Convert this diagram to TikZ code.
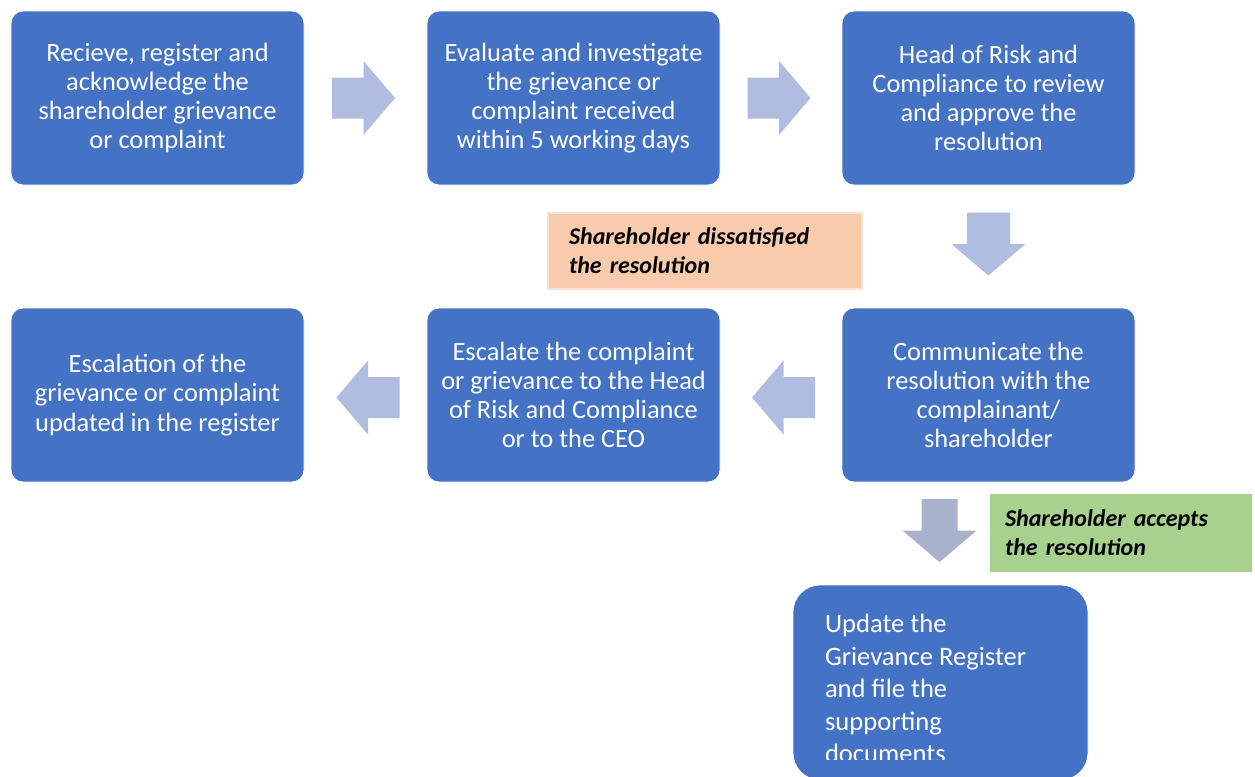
\documentclass[tikz,border=0pt]{standalone}
\usepackage{fontspec}
\setmainfont{Carlito}
\usetikzlibrary{calc}
\definecolor{boxblue}{HTML}{4472C4}
\definecolor{arrowblue}{HTML}{B0BCE0}
\definecolor{arrowgrey}{HTML}{A8B2CA}
\definecolor{peach}{HTML}{F8CBAD}
\definecolor{peachline}{HTML}{FBE3D3}
\definecolor{leafgreen}{HTML}{A9D18E}
\begin{document}
\begin{tikzpicture}[x=0.5pt, y=-0.5pt,
	stepbox/.style={fill=boxblue, draw=white, line width=0.4pt, rounded corners=6pt, minimum width=146.5pt, minimum height=87pt, inner sep=0pt, text=white, align=center, font=\fontsize{13.2}{14.6}\selectfont},
	notebox/.style={inner ysep=0pt, align=left, font=\fontsize{12}{14.5}\selectfont\bfseries\itshape},
	blockarrow/.pic={\path[pic actions] (-31.5,-#1) -- (0,-#1) -- (0,-37) -- (31.5,0) -- (0,37) -- (0,#1) -- (-31.5,#1) -- cycle;}]
	\useasboundingbox (0,0) rectangle (1255,777);
	% top row
	\node[stepbox] (recv) at (157.5,98) {Recieve, register and\\acknowledge the\\shareholder grievance\\or complaint};
	\node[stepbox] (eval) at (573.5,98) {Evaluate and investigate\\the grievance or\\complaint received\\within 5 working days};
	\node[stepbox] (review) at (988.5,98) {Head of Risk and\\Compliance to review\\and approve the\\resolution};
	% middle row
	\node[stepbox] (logesc) at (157.5,395) {Escalation of the\\grievance or complaint\\updated in the register};
	\node[stepbox] (escalate) at (573.5,395) {Escalate the complaint\\or grievance to the Head\\of Risk and Compliance\\or to the CEO};
	\node[stepbox] (comm) at (988.5,395) {Communicate the\\resolution with the\\complainant/\\shareholder};
	% bottom box, text runs over its edge
	\node[stepbox, minimum width=147.5pt, minimum height=97.5pt, rounded corners=13.5pt] (update) at (940.5,682.5) {};
	\begin{scope}
		\clip (update.north west) rectangle ([yshift=10.5pt]update.south east);
		\node[anchor=north west, inner sep=0pt, text=white, align=left, font=\fontsize{13.3}{16.3}\selectfont] (updtext) at ([xshift=16pt,yshift=-14.5pt]update.north west) {Update the\\Grievance Register\\and file the\\supporting\\documents};
	\end{scope}
	% notes
	\node[notebox, fill=peach, draw=peachline, line width=1pt, text width=136pt, inner xsep=10.5pt, minimum height=38pt] (unhappy) at (705,250.5) {Shareholder dissatisfied\\the resolution};
	\node[notebox, fill=leafgreen, text width=116pt, inner xsep=7.5pt, minimum height=39pt] (happy) at (1121,533) {Shareholder accepts\\the resolution};
	% block arrows
	\pic[fill=arrowblue] at ($(recv.east)!0.5!(eval.west)+(-2,0)$) {blockarrow=20.5};
	\pic[fill=arrowblue] at ($(eval.east)!0.5!(review.west)+(-2,0)$) {blockarrow=20.5};
	\pic[fill=arrowblue, rotate=-90] at ($(review.south)!0.5!(comm.north)+(0,-2.5)$) {blockarrow=21.5};
	\pic[fill=arrowblue, rotate=180] at ($(comm.west)!0.5!(escalate.east)+(2.5,2.5)$) {blockarrow=20.5};
	\pic[fill=arrowblue, rotate=180] at ($(escalate.west)!0.5!(logesc.east)+(2.5,2.5)$) {blockarrow=20.5};
	\pic[fill=arrowgrey, rotate=-90] at ($(update.north)+(-1,-54)$) {blockarrow=18};
\end{tikzpicture}
\end{document}
